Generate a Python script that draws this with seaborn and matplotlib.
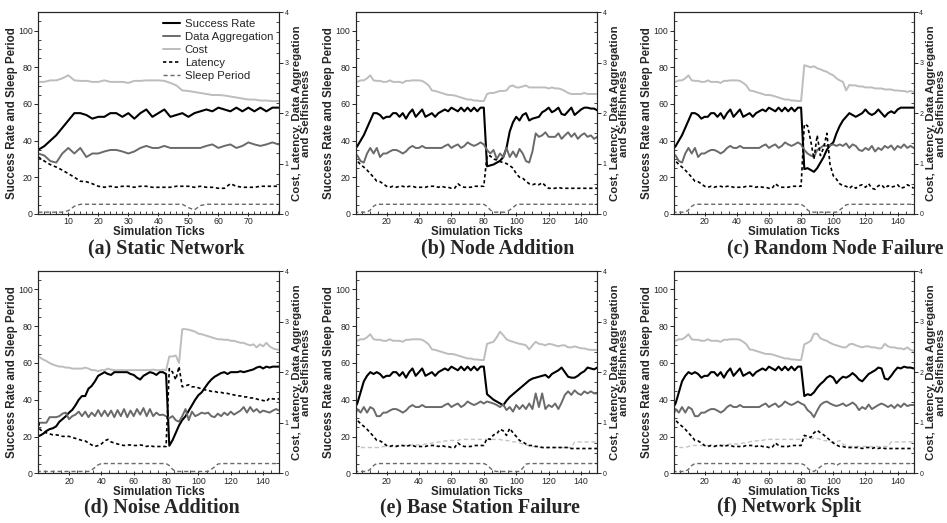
import matplotlib
matplotlib.use("Agg")
import matplotlib.pyplot as plt
import seaborn as sns
from matplotlib.lines import Line2D
from matplotlib.ticker import MultipleLocator

sns.set_style("ticks")
plt.rcParams['font.family'] = ['Liberation Sans', 'DejaVu Sans']
plt.rcParams['axes.linewidth'] = 0.8

# ---------------- data (sampled every 2 simulation ticks) ----------------
ticks = list(range(0, 151, 2))          # 0, 2, ..., 150

# shared first segment (ticks 0..80)
base_success = [35, 37, 40, 43, 47, 51, 55, 55, 54, 52, 53, 53, 55, 55, 53, 55, 52, 55, 57, 53,
                 55, 57, 53, 54, 55, 53, 55, 56, 57, 56, 58, 57, 56, 58, 56, 58, 56, 58, 56, 58, 58]
base_cost = [2.62, 2.62, 2.65, 2.65, 2.69, 2.75, 2.65, 2.64, 2.64, 2.62, 2.62, 2.65, 2.62, 2.62,
             2.62, 2.60, 2.64, 2.64, 2.65, 2.65, 2.65, 2.64, 2.60, 2.55, 2.45, 2.44, 2.42, 2.40,
             2.38, 2.36, 2.36, 2.35, 2.33, 2.31, 2.29, 2.27, 2.27, 2.25, 2.25, 2.24, 2.24]
base_agg = [1.20, 1.16, 1.05, 1.02, 1.20, 1.31, 1.20, 1.31, 1.13, 1.20, 1.20, 1.24, 1.27, 1.27,
            1.24, 1.20, 1.24, 1.31, 1.35, 1.31, 1.31, 1.35, 1.31, 1.31, 1.31, 1.31, 1.31, 1.31,
            1.35, 1.38, 1.31, 1.35, 1.38, 1.31, 1.35, 1.42, 1.38, 1.35, 1.38, 1.42, 1.38]
base_latency = [1.13, 1.05, 0.98, 0.93, 0.87, 0.80, 0.73, 0.65, 0.64, 0.60, 0.55, 0.53, 0.55, 0.53,
                0.55, 0.55, 0.53, 0.55, 0.55, 0.53, 0.53, 0.53, 0.53, 0.55, 0.55, 0.55, 0.53, 0.55,
                0.53, 0.53, 0.51, 0.51, 0.60, 0.55, 0.53, 0.53, 0.53, 0.55, 0.55, 0.55, 0.55]
base_sleep = [1, 1, 1, 1, 1, 2.2, 4.2] + [5.3] * 34

# (a) static network
a_sleep = [1, 1, 1, 1, 1, 1.8, 4.2, 5.3] + [5.3] * 17 + [3.5, 2.2, 4.6] + [5.3] * 13

# (e)/(f) start variants
ef_success_head = [35, 38, 44, 50, 53, 55, 54]
ef_agg_head = [1.09, 1.27, 1.20, 1.31, 1.20, 1.31, 1.27, 1.13]

# (b) node addition, ticks 82..150
b_success_tail = [26, 26.5, 27, 28, 29, 31, 36, 45, 50, 53, 51, 54, 55, 51, 52, 52.5, 53, 55.5,
                  56.5, 58, 55.5, 56.5, 58, 54.5, 54, 56, 58, 54, 55.5, 57, 58, 58, 57.5, 57.5, 56.5]
b_cost_tail = [2.38, 2.40, 2.40, 2.42, 2.44, 2.44, 2.45, 2.53, 2.55, 2.51, 2.51, 2.53, 2.55, 2.51,
               2.51, 2.51, 2.51, 2.51, 2.51, 2.49, 2.51, 2.49, 2.49, 2.47, 2.44, 2.40, 2.38, 2.38,
               2.38, 2.38, 2.40, 2.38, 2.38, 2.38, 2.38]
b_agg_tail = [1.27, 1.20, 1.27, 1.09, 1.20, 1.13, 1.31, 1.13, 1.24, 1.13, 1.29, 1.20, 1.05, 1.02,
              1.24, 1.60, 1.53, 1.56, 1.62, 1.53, 1.53, 1.53, 1.60, 1.49, 1.56, 1.62, 1.53, 1.60,
              1.49, 1.56, 1.60, 1.53, 1.56, 1.49, 1.53]
b_latency_tail = [1.16, 1.15, 1.09, 1.07, 1.04, 1.02, 1.00, 0.96, 0.91, 0.80, 0.73, 0.71, 0.65,
                  0.60, 0.58, 0.60, 0.58, 0.62, 0.56, 0.51, 0.51, 0.51, 0.53, 0.51, 0.51, 0.51,
                  0.51, 0.51, 0.51, 0.51, 0.51, 0.51, 0.51, 0.51, 0.51]
b_sleep_tail = [4.2, 2.2, 1, 1, 1, 1, 1, 2.2, 3.5, 5] + [5.3] * 25

# (c) random node failure, ticks 82..150
c_success_tail = [24.5, 25, 24, 23, 25, 28, 31, 35, 37.5, 39, 44, 48, 51, 53, 55, 54, 53, 54, 55,
                  57, 55, 54, 55, 57, 55, 53, 55, 56, 55, 57, 58, 58, 58, 58, 58]
c_cost_tail = [2.95, 2.93, 2.91, 2.93, 2.89, 2.87, 2.84, 2.82, 2.78, 2.75, 2.69, 2.65, 2.62, 2.45,
               2.56, 2.55, 2.55, 2.53, 2.53, 2.51, 2.51, 2.51, 2.49, 2.49, 2.49, 2.47, 2.47, 2.47,
               2.45, 2.45, 2.44, 2.44, 2.42, 2.44, 2.42]
c_agg_tail = [1.27, 1.20, 1.16, 1.13, 1.27, 1.31, 1.36, 1.35, 1.36, 1.38, 1.35, 1.38, 1.35, 1.40,
              1.31, 1.38, 1.35, 1.27, 1.25, 1.31, 1.27, 1.35, 1.24, 1.31, 1.27, 1.35, 1.31, 1.36,
              1.27, 1.35, 1.31, 1.38, 1.31, 1.35, 1.31]
c_latency_tail = [1.78, 1.75, 1.45, 1.09, 1.56, 1.16, 1.31, 1.60, 0.98, 0.76, 0.69, 0.60, 0.56,
                  0.55, 0.51, 0.56, 0.51, 0.56, 0.58, 0.53, 0.60, 0.51, 0.49, 0.56, 0.58, 0.51,
                  0.56, 0.53, 0.55, 0.58, 0.51, 0.53, 0.58, 0.55, 0.51]
c_sleep_tail = [4.2, 2.2] + [1] * 9 + [2.2, 3.5, 5] + [5.3] * 21

# (d) noise addition, ticks 0..150
d_success = [20, 20.5, 21.5, 23, 24, 24.5, 25.5, 28, 29.5, 31, 33, 34.5, 37, 40, 42, 42, 46, 47.5,
             50, 53, 54, 55, 54, 53.5, 55, 55, 55, 55, 55, 54, 53.5, 52, 51, 53, 54, 55, 54.5,
             53.5, 55, 55, 54,
             15, 18, 22, 26, 29, 31, 34, 37, 40, 42.5, 44, 46.5, 49, 51, 52.5, 53.5, 54.5, 55, 54,
             55, 55, 55, 55.5, 55, 55.5, 56, 56.5, 57.5, 58, 57, 58, 57.5, 58, 58, 58]
d_cost = [2.33, 2.29, 2.25, 2.22, 2.18, 2.15, 2.13, 2.11, 2.11, 2.09, 2.09, 2.07, 2.07, 2.07, 2.07,
          2.09, 2.07, 2.04, 2.04, 2.02, 2.04, 2.04, 2.07, 2.05, 2.04, 2.04, 2.04, 2.04, 2.04, 2.04,
          2.04, 2.04, 2.04, 2.04, 2.04, 2.04, 2.05, 2.04, 2.04, 2.05, 2.04,
          2.31, 2.31, 2.33, 2.18, 2.85, 2.85, 2.84, 2.82, 2.80, 2.76, 2.75, 2.73, 2.71, 2.69, 2.67,
          2.65, 2.65, 2.64, 2.64, 2.62, 2.62, 2.60, 2.58, 2.58, 2.55, 2.53, 2.55, 2.49, 2.55, 2.51,
          2.58, 2.51, 2.47, 2.45, 2.44]
d_agg = [1.00, 1.00, 1.00, 1.00, 1.11, 1.11, 1.11, 1.13, 1.18, 1.20, 1.07, 1.13, 1.16, 1.22, 1.13,
         1.22, 1.11, 1.20, 1.13, 1.25, 1.13, 1.24, 1.13, 1.24, 1.11, 1.25, 1.13, 1.27, 1.11, 1.24,
         1.13, 1.27, 1.16, 1.29, 1.13, 1.27, 1.13, 1.20, 1.15, 1.16, 1.13,
         1.09, 1.13, 1.05, 1.02, 1.13, 1.27, 1.05, 1.22, 1.13, 1.16, 1.20, 1.18, 1.20, 1.13, 1.11,
         1.18, 1.13, 1.20, 1.15, 1.22, 1.16, 1.20, 1.24, 1.31, 1.20, 1.31, 1.22, 1.27, 1.20, 1.24,
         1.22, 1.20, 1.24, 1.27, 1.24]
d_latency = [1.24, 0.87, 0.82, 0.80, 0.78, 0.76, 0.76, 0.75, 0.73, 0.73, 0.73, 0.71, 0.69, 0.67,
             0.65, 0.64, 0.60, 0.56, 0.53, 0.55, 0.58, 0.64, 0.67, 0.62, 0.60, 0.58, 0.56, 0.55,
             0.56, 0.56, 0.55, 0.55, 0.56, 0.55, 0.53, 0.55, 0.53, 0.53, 0.53, 0.53, 0.53,
             2.07, 2.00, 1.85, 2.11, 1.71, 1.73, 1.75, 1.71, 1.71, 1.69, 1.67, 1.65, 1.64, 1.62,
             1.62, 1.60, 1.60, 1.58, 1.58, 1.56, 1.55, 1.53, 1.53, 1.51, 1.51, 1.49, 1.49, 1.47,
             1.45, 1.44, 1.42, 1.49, 1.47, 1.47, 1.47]
d_sleep = ([1] * 17 + [1.8, 3.2, 4.6] + [5.3] * 21 + [4.2, 2.2] + [1] * 11 + [2.2, 3.5, 5]
           + [5.3] * 19)

# (e) base station failure, ticks 82..150
e_success_tail = [43, 41.5, 40, 39, 38, 37, 39.5, 41.5, 43, 44.5, 46, 47.5, 49, 50.5, 51.5, 52,
                  52.5, 53, 53.5, 52, 54, 55, 56, 57.5, 55, 52.5, 52, 52, 53, 54.5, 55.5, 57.5,
                  57, 56.5, 57.5]
e_cost_tail = [2.56, 2.58, 2.60, 2.69, 2.80, 2.73, 2.65, 2.62, 2.60, 2.58, 2.56, 2.55, 2.53, 2.45,
               2.53, 2.60, 2.56, 2.55, 2.53, 2.56, 2.55, 2.53, 2.51, 2.53, 2.53, 2.49, 2.49, 2.51,
               2.49, 2.47, 2.47, 2.45, 2.44, 2.44, 2.44]
e_agg_tail = [1.42, 1.40, 1.38, 1.35, 1.31, 1.36, 1.25, 1.31, 1.22, 1.35, 1.27, 1.35, 1.27, 1.38,
              1.27, 1.58, 1.31, 1.58, 1.27, 1.35, 1.31, 1.38, 1.27, 1.40, 1.55, 1.62, 1.55, 1.64,
              1.58, 1.55, 1.62, 1.58, 1.62, 1.58, 1.58]
e_latency_tail = [0.69, 0.67, 0.76, 0.78, 0.87, 0.84, 0.75, 0.89, 0.80, 0.73, 0.65, 0.62, 0.58,
                  0.55, 0.55, 0.53, 0.53, 0.51, 0.51, 0.51, 0.51, 0.51, 0.51, 0.51, 0.51, 0.51,
                  0.49, 0.49, 0.49, 0.49, 0.49, 0.49, 0.49, 0.49, 0.49]
e_sleep_tail = [4.6, 2.8, 1.3] + [1] * 8 + [2.8, 5] + [5.3] * 22
e_selfishness = [0.53, 0.53, 0.51, 0.51, 0.51, 0.51, 0.51, 0.51, 0.51, 0.53, 0.53,
                 0.53, 0.53, 0.55, 0.55, 0.55, 0.55, 0.56, 0.56, 0.56, 0.56,
                 0.56, 0.58, 0.58, 0.60, 0.60, 0.62, 0.62, 0.64, 0.64, 0.65,
                 0.65, 0.65, 0.67, 0.67, 0.67, 0.67, 0.67, 0.67, 0.67, 0.67,
                 0.67, 0.67, 0.67, 0.67, 0.67, 0.65, 0.65, 0.64, 0.62, 0.62,
                 0.60, 0.58, 0.56, 0.55, 0.53, 0.53, 0.51, 0.51, 0.51, 0.51,
                 0.51, 0.51, 0.51, 0.51, 0.51, 0.51, 0.51,
                 0.62, 0.62, 0.62, 0.62, 0.62, 0.62, 0.62, 0.62]

# (f) network split, ticks 82..150
f_success_tail = [42, 43, 42.5, 44, 46.5, 48.5, 50, 52, 53, 52, 49, 51, 52.5, 52, 53, 54.5, 53,
                  51, 50, 52, 54, 55, 56, 57.5, 57, 51.5, 51, 53, 55.5, 57.5, 57, 58, 57.5, 57.5, 57]
f_cost_tail = [2.55, 2.58, 2.62, 2.76, 2.76, 2.67, 2.64, 2.62, 2.58, 2.55, 2.53, 2.51, 2.49, 2.49,
               2.55, 2.56, 2.53, 2.51, 2.49, 2.51, 2.51, 2.49, 2.49, 2.47, 2.47, 2.56, 2.51, 2.49,
               2.49, 2.47, 2.47, 2.45, 2.49, 2.44, 2.42]
f_agg_tail = [1.35, 1.25, 1.20, 1.11, 1.24, 1.35, 1.40, 1.42, 1.38, 1.35, 1.33, 1.35, 1.38, 1.33,
              1.36, 1.40, 1.35, 1.25, 1.31, 1.27, 1.36, 1.27, 1.31, 1.35, 1.38, 1.35, 1.31, 1.35,
              1.29, 1.36, 1.31, 1.38, 1.33, 1.35, 1.35]
f_latency_tail = [0.75, 0.73, 0.71, 0.80, 0.85, 0.80, 0.76, 0.71, 0.65, 0.60, 0.56, 0.53, 0.53,
                  0.51, 0.51, 0.51, 0.51, 0.51, 0.49, 0.51, 0.51, 0.49, 0.51, 0.49, 0.51, 0.49,
                  0.49, 0.49, 0.49, 0.49, 0.49, 0.49, 0.49, 0.49, 0.49]
f_sleep_tail = [4.6, 2.8, 1.3, 1, 2.2, 3.5, 5, 5.3, 5.3, 5.3, 4.2, 5.3] + [5.3] * 23
f_selfishness = [0.53, 0.51, 0.51, 0.51, 0.51, 0.53, 0.55, 0.55, 0.55, 0.55, 0.55,
                 0.55, 0.55, 0.55, 0.55, 0.56, 0.56, 0.56, 0.58, 0.58, 0.58,
                 0.58, 0.60, 0.60, 0.62, 0.64, 0.64, 0.65, 0.65, 0.67, 0.67,
                 0.67, 0.67, 0.67, 0.67, 0.67, 0.67, 0.67, 0.67, 0.67, 0.67,
                 0.69, 0.69, 0.69, 0.69, 0.69, 0.67, 0.65, 0.64, 0.62, 0.62,
                 0.62, 0.65, 0.58, 0.55, 0.53, 0.53, 0.53, 0.53, 0.53, 0.53,
                 0.53, 0.53, 0.53, 0.53, 0.53, 0.53, 0.53,
                 0.62, 0.62, 0.62, 0.62, 0.62, 0.62, 0.62, 0.62]

captions = ["(a) Static Network", "(b) Node Addition", "(c) Random Node Failure",
            "(d) Noise Addition", "(e) Base Station Failure", "(f) Network Split"]
legend_labels = ["Success Rate", "Data Aggregation", "Cost", "Latency", "Sleep Period"]

# ---------------- styling ----------------
C_SUCCESS = "black"
C_AGG = "#6a6a6a"
C_COST = "#bdbdbd"
C_LAT = "black"
C_SLEEP = "#6a6a6a"
C_SELF = "#c4c4c4"
LAT_DASH = (2.0, 1.6)
SLEEP_DASH = (3.0, 2.0)

ef_success = ef_success_head + base_success[7:]
ef_agg = ef_agg_head + base_agg[8:]

panels = [
    dict(x=ticks[:41], success=base_success, agg=base_agg, cost=base_cost, lat=base_latency,
         sleep=a_sleep, selfish=None, xlim=(0, 80.3), major=10, minor=2),
    dict(x=ticks, success=base_success + b_success_tail, agg=base_agg + b_agg_tail,
         cost=base_cost + b_cost_tail, lat=base_latency + b_latency_tail,
         sleep=base_sleep + b_sleep_tail, selfish=None, xlim=(1, 150), major=20, minor=5),
    dict(x=ticks, success=base_success + c_success_tail, agg=base_agg + c_agg_tail,
         cost=base_cost + c_cost_tail, lat=base_latency + c_latency_tail,
         sleep=base_sleep + c_sleep_tail, selfish=None, xlim=(1, 150), major=20, minor=5),
    dict(x=ticks, success=d_success, agg=d_agg, cost=d_cost, lat=d_latency, sleep=d_sleep,
         selfish=None, xlim=(1, 150), major=20, minor=5),
    dict(x=ticks, success=ef_success + e_success_tail, agg=ef_agg + e_agg_tail,
         cost=base_cost + e_cost_tail, lat=base_latency + e_latency_tail,
         sleep=base_sleep + e_sleep_tail, selfish=e_selfishness, xlim=(1, 150), major=20, minor=5),
    dict(x=ticks, success=ef_success + f_success_tail, agg=ef_agg + f_agg_tail,
         cost=base_cost + f_cost_tail, lat=base_latency + f_latency_tail,
         sleep=base_sleep + f_sleep_tail, selfish=f_selfishness, xlim=(1, 150), major=20, minor=5),
]

W, H = 947, 523
rects_px = [(38.3, 12.3, 241.0, 201.7), (355.7, 12.3, 241.6, 201.7), (674.0, 12.3, 239.7, 201.7),
            (38.3, 271.0, 241.0, 202.3), (355.7, 271.0, 241.6, 202.3), (674.0, 271.0, 239.7, 202.3)]
caption_px = [(166, 248), (498, 248), (835, 248), (162, 507), (480, 507), (789, 507)]

fig = plt.figure(figsize=(W / 100, H / 100), dpi=100)


def styled_line(ax, x, y, color, lw, dash=None, z=2):
    sns.lineplot(x=x, y=y, ax=ax, color=color, linewidth=lw, estimator=None, sort=False,
                 zorder=z, legend=False)
    line = ax.lines[-1]
    if dash is not None:
        line.set_dashes(dash)
    return line


for i, p in enumerate(panels):
    l, t, w, h = rects_px[i]
    ax = fig.add_axes([l / W, 1 - (t + h) / H, w / W, h / H])
    ax2 = ax.twinx()

    styled_line(ax, p["x"], p["sleep"], C_SLEEP, 1.0, SLEEP_DASH)
    styled_line(ax, p["x"], p["success"], C_SUCCESS, 1.5)
    if p["selfish"] is not None:
        styled_line(ax2, p["x"], p["selfish"], C_SELF, 1.0, SLEEP_DASH)
    styled_line(ax2, p["x"], p["cost"], C_COST, 1.4)
    styled_line(ax2, p["x"], p["agg"], C_AGG, 1.4)
    styled_line(ax2, p["x"], p["lat"], C_LAT, 1.2, LAT_DASH)

    ax.set_xlim(*p["xlim"])
    ax.set_ylim(0, 110)
    ax2.set_ylim(0, 4)
    ax.xaxis.set_minor_locator(MultipleLocator(p["minor"]))
    ax.yaxis.set_minor_locator(MultipleLocator(5))
    ax2.yaxis.set_major_locator(MultipleLocator(1))
    ax2.yaxis.set_minor_locator(MultipleLocator(0.2))
    xt = [v for v in range(p["major"], int(p["xlim"][1]), p["major"])]
    ax.set_xticks(xt)
    ax.set_yticks([0, 20, 40, 60, 80, 100])

    ax.tick_params(axis='y', which='major', direction='out', length=3, width=0.7,
                   labelsize=6.3, pad=1)
    ax.tick_params(axis='y', which='minor', direction='in', length=2, width=0.6)
    ax.tick_params(axis='x', which='major', direction='inout', length=3, width=0.7,
                   labelsize=6.3, pad=1)
    ax.tick_params(axis='x', which='minor', direction='in', length=2, width=0.6)
    ax2.tick_params(axis='y', which='major', direction='out', length=3, width=0.7,
                    labelsize=5, pad=1)
    ax2.tick_params(axis='y', which='minor', direction='in', length=2, width=0.6)

    ax.set_xlabel("Simulation Ticks", fontsize=8.3, fontweight='bold', labelpad=0)
    ax.set_ylabel("Success Rate and Sleep Period", fontsize=8.3, fontweight='bold',
                  labelpad=0.3)
    ax2.set_ylabel("Cost, Latency, Data Aggregation\nand Selfishness", fontsize=8.2,
                   fontweight='bold', labelpad=2, linespacing=0.95)
    for a in (ax, ax2):
        for s in a.spines.values():
            s.set_visible(True)
            s.set_linewidth(0.8)

    cx, cy = caption_px[i]
    fig.text(cx / W, 1 - cy / H, captions[i], ha='center', va='center',
             family=['Liberation Serif', 'DejaVu Serif'], fontweight='bold', fontsize=14.4)

    if i == 0:
        handles = [
            Line2D([], [], color=C_SUCCESS, lw=1.5),
            Line2D([], [], color=C_AGG, lw=1.4),
            Line2D([], [], color=C_COST, lw=1.4),
            Line2D([], [], color=C_LAT, lw=1.2, dashes=LAT_DASH),
            Line2D([], [], color=C_SLEEP, lw=1.0, dashes=SLEEP_DASH),
        ]
        ax2.legend(handles, legend_labels, loc='upper right', frameon=False, fontsize=8.2,
                   handlelength=1.5, handletextpad=0.4, labelspacing=0.28,
                   borderaxespad=0.35, borderpad=0.2)

fig.savefig("out.png", dpi=100)
